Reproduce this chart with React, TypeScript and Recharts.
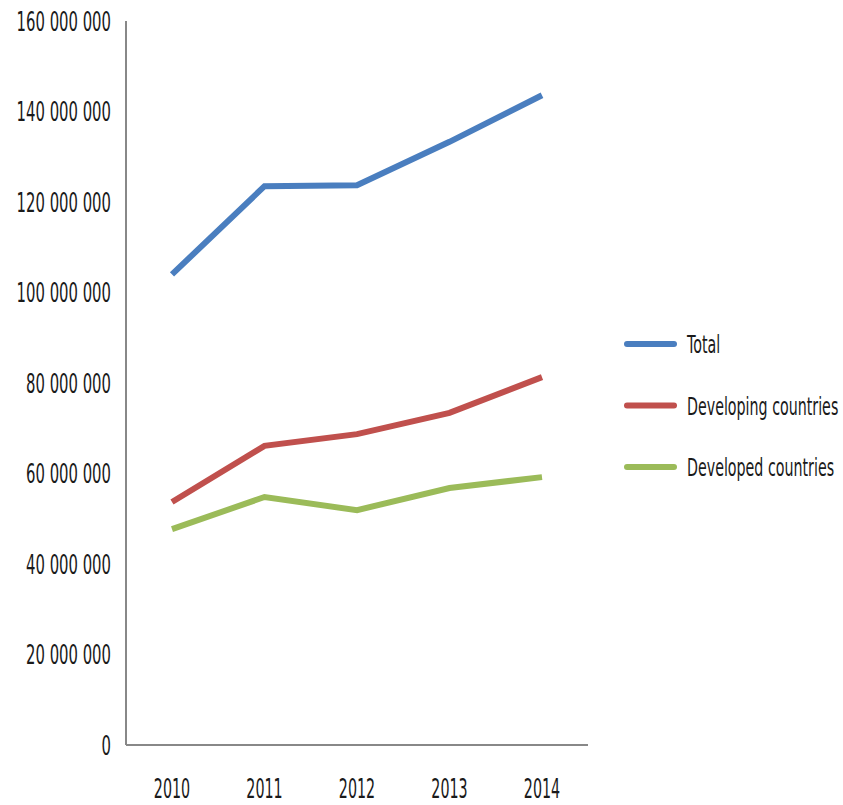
import { LineChart, Line, XAxis, YAxis } from "recharts";

const years = ["2010", "2011", "2012", "2013", "2014"];
const total = [104000000, 123500000, 123700000, 133300000, 143600000];
const developing = [53700000, 66100000, 68700000, 73400000, 81300000];
const developed = [47700000, 54800000, 51900000, 56800000, 59200000];
const yTicks = [0, 20000000, 40000000, 60000000, 80000000, 100000000, 120000000, 140000000, 160000000];

const SERIES = [
  { key: "total", name: "Total", color: "#4A7EBF" },
  { key: "developing", name: "Developing countries", color: "#C0504D" },
  { key: "developed", name: "Developed countries", color: "#9BBB59" },
];

const FONT = "'DejaVu Sans', sans-serif";
const TEXT = "#1a1a1a";
const SQUEEZE = 0.55; // the original uses a condensed face

const data = years.map((year, i) => ({
  year,
  total: total[i],
  developing: developing[i],
  developed: developed[i],
}));

function formatTick(v: number) {
  return v.toLocaleString("en-US").replace(/,/g, " ");
}

function YTick(props: any) {
  const { x, y, payload } = props;
  return (
    <g transform={`translate(${x},${y}) scale(${SQUEEZE},1)`}>
      <text x={0} y={0} dy="0.36em" textAnchor="end" fill={TEXT} fontSize={27} fontFamily={FONT}>
        {formatTick(payload.value)}
      </text>
    </g>
  );
}

function XTick(props: any) {
  const { x, y, payload } = props;
  return (
    <g transform={`translate(${x},${y}) scale(${SQUEEZE},1)`}>
      <text x={0} y={45} textAnchor="middle" fill={TEXT} fontSize={26} fontFamily={FONT}>
        {payload.value}
      </text>
    </g>
  );
}

export default function App() {
  return (
    <div style={{ position: "absolute", left: 0, top: 0, width: 843, height: 805, background: "#fff" }}>
      <LineChart
        width={843}
        height={805}
        data={data}
        margin={{ top: 21, right: 255, left: 0, bottom: 0 }}
      >
        <XAxis
          dataKey="year"
          height={60}
          padding={{ left: 46, right: 46 }}
          axisLine={{ stroke: "#888", strokeWidth: 2 }}
          tickLine={false}
          tick={<XTick />}
        />
        <YAxis
          width={126}
          domain={[0, 160000000]}
          ticks={yTicks}
          interval={0}
          axisLine={{ stroke: "#888", strokeWidth: 2 }}
          tickLine={false}
          tick={<YTick />}
          tickMargin={9}
        />
        {SERIES.map((s) => (
          <Line
            key={s.key}
            dataKey={s.key}
            name={s.name}
            stroke={s.color}
            strokeWidth={6}
            dot={false}
            type="linear"
            isAnimationActive={false}
          />
        ))}
      </LineChart>

      {/* legend, drawn as svg so the squeezed text keeps its real width */}
      <svg
        width={219}
        height={183}
        style={{ position: "absolute", left: 622, top: 314 }}
      >
        {SERIES.map((s, i) => (
          <g key={s.key} transform={`translate(0,${30 + i * 61.5})`}>
            <line x1={5} x2={52} y1={0} y2={0} stroke={s.color} strokeWidth={6} strokeLinecap="round" />
            <g transform={`translate(65,0) scale(0.57,1)`}>
              <text x={0} y={0} dy="0.36em" fill={TEXT} fontSize={25} fontFamily={FONT}>
                {s.name}
              </text>
            </g>
          </g>
        ))}
      </svg>
    </div>
  );
}
